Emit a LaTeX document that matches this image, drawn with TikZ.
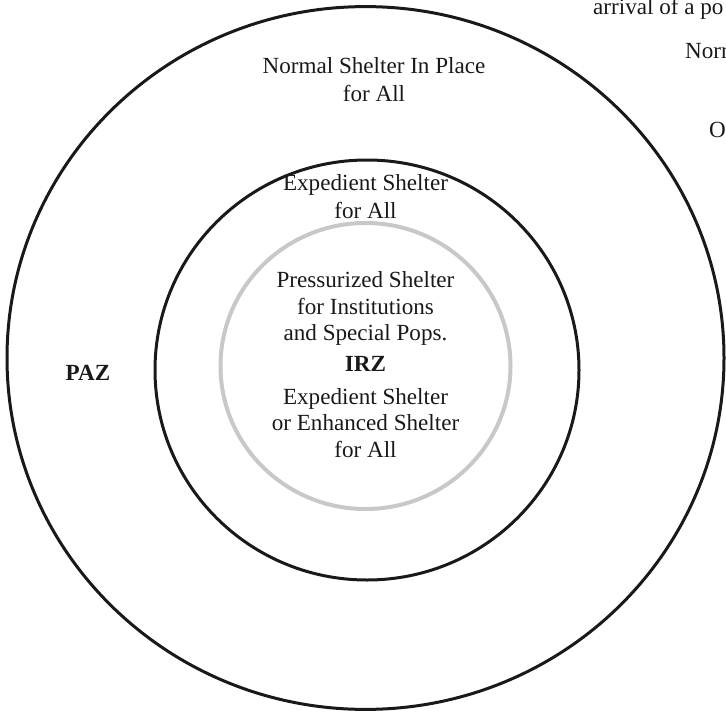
\documentclass[tikz,border=0pt]{standalone}
\usepackage{fontspec}
\setmainfont{Liberation Serif}
\definecolor{ringgray}{RGB}{200,200,200}
\begin{document}
\begin{tikzpicture}[x=1bp,y=-1bp,
  ring/.style={line width=3bp,black!90},
  innerring/.style={line width=4bp,ringgray},
  label/.style={inner sep=0pt,anchor=base,font=\fontsize{23.2}{28}\selectfont,text=black!90},
  zone/.style={label,font=\fontsize{23.2}{28}\selectfont\bfseries}]
  \useasboundingbox (0,0) rectangle (726,719);
  \clip (0,0) rectangle (726,719);
  % centres of the three zones
  \coordinate (outerC) at (365.5,358);
  \coordinate (midC) at (367,370);
  \coordinate (innerC) at (365.5,366);
  \draw[ring] (outerC) ellipse [x radius=358.5, y radius=351.4];
  \draw[ring] (midC) ellipse [x radius=212, y radius=210];
  \draw[innerring] (innerC) ellipse [x radius=145, y radius=143];
  % outer ring
  \node[label] (n1) at (374,74) {Normal Shelter In Place};
  \node[label] (n2) at (374,102) {for All};
  \node[zone] (paz) at (88,380) {PAZ};
  % middle ring
  \node[label] (e1) at (365.5,190) {Expedient Shelter};
  \node[label] (e2) at (365.5,218) {for All};
  % inner zone
  \node[label] (p1) at (365.5,287) {Pressurized Shelter};
  \node[label] (p2) at (365.5,314) {for Institutions};
  \node[label] (p3) at (365.5,340) {and Special Pops.};
  \node[zone] (irz) at (365.5,371) {IRZ};
  \node[label] (x1) at (365.5,404) {Expedient Shelter};
  \node[label] (x2) at (365.5,430) {or Enhanced Shelter};
  \node[label] (x3) at (365.5,457) {for All};
  % text running in from the right
  \node[label,anchor=base west] (r1) at (593,15) {arrival of a po};
  \node[label,anchor=base west] (r2) at (685,59) {Norm};
  \node[label,anchor=base west] (r3) at (709,138) {O};
\end{tikzpicture}
\end{document}
